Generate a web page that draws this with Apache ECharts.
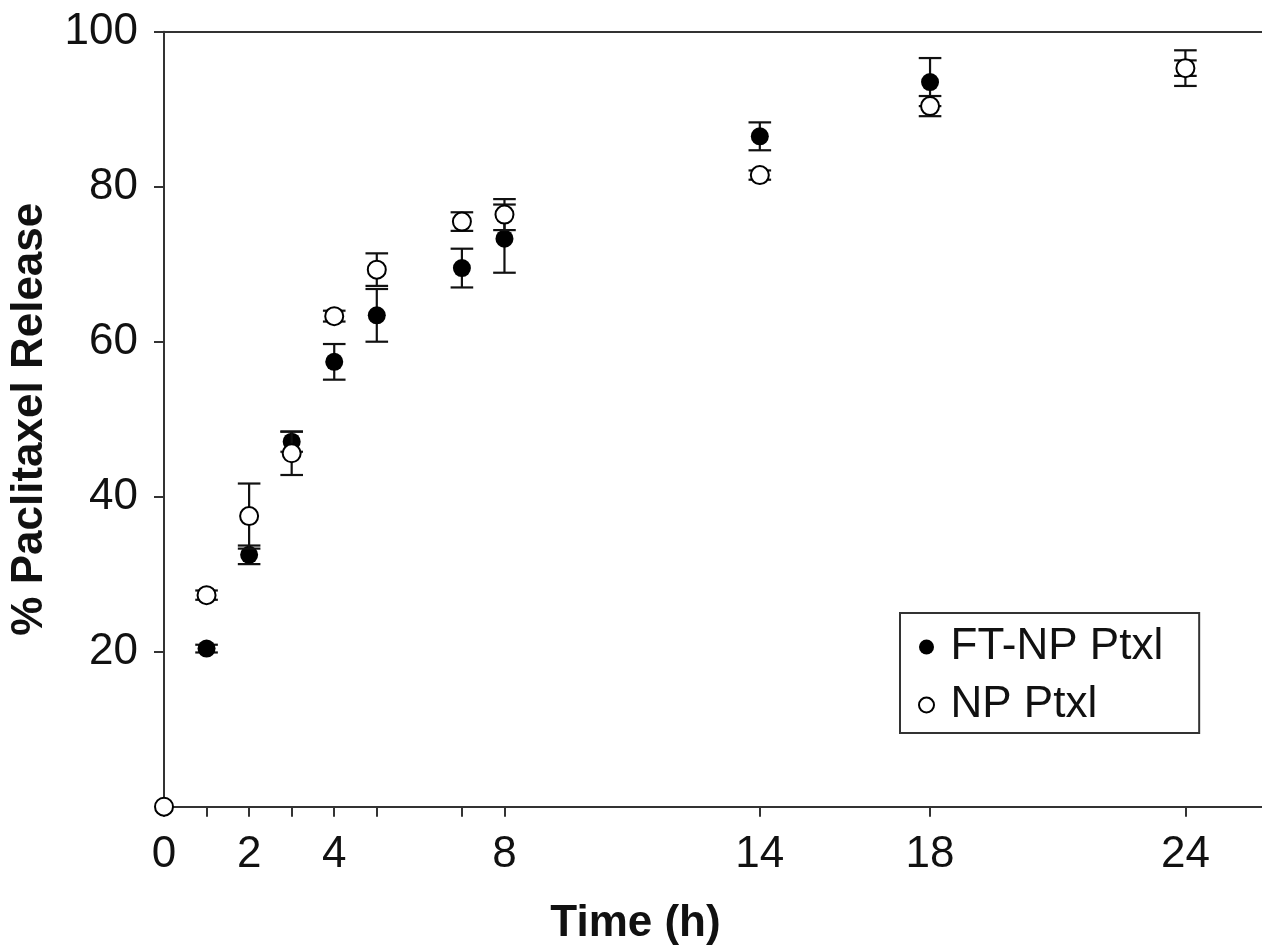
<!DOCTYPE html>
<html>
<head>
<meta charset="utf-8">
<script src="https://cdn.jsdelivr.net/npm/echarts@6/dist/echarts.min.js"></script>
<style>
html,body{margin:0;padding:0;background:#fff;}
#chart{width:1262px;height:952px;}
</style>
</head>
<body>
<div id="chart"></div>
<script>
// ---- data ----
const times      = [0, 1, 2, 3, 4, 5, 7, 8, 14, 18, 24];
const ftnpValues = [0, 20.4, 32.5, 47.1, 57.4, 63.4, 69.5, 73.3, 86.5, 93.5, 95.3];
const ftnpErrors = [0, 0.5, 1.2, 1.3, 2.3, 3.4, 2.5, 4.4, 1.8, 3.1, 1.0];
const npValues   = [0, 27.3, 37.5, 45.6, 63.3, 69.3, 75.5, 76.4, 81.5, 90.4, 95.3];
const npErrors   = [0, 0.6, 4.2, 2.8, 0.7, 2.1, 1.2, 2.0, 0.6, 1.3, 2.3];
const xTickValues  = [0, 1, 2, 3, 4, 5, 7, 8, 14, 18, 24];
const xLabelValues = [0, 2, 4, 8, 14, 18, 24];
const yTickValues  = [20, 40, 60, 80, 100];
const seriesNames  = ['FT-NP Ptxl', 'NP Ptxl'];

const FONT = '"Liberation Sans", Arial, Helvetica, sans-serif';
const AXIS_COLOR = '#333';
const TEXT_COLOR = '#111';

function pairs(vals) { return times.map((t, i) => [t, vals[i]]); }
function triples(vals, errs) { return times.map((t, i) => [t, vals[i], errs[i]]); }

function errorBar(params, api) {
  const x = api.value(0), v = api.value(1), e = api.value(2);
  if (!e) return null;
  const top = api.coord([x, v + e]);
  const bot = api.coord([x, v - e]);
  const hw = 11.3;
  const st = { stroke: '#111', lineWidth: 2.2 };
  return {
    type: 'group',
    children: [
      { type: 'line', shape: { x1: top[0], y1: top[1], x2: bot[0], y2: bot[1] }, style: st },
      { type: 'line', shape: { x1: top[0] - hw, y1: top[1], x2: top[0] + hw, y2: top[1] }, style: st },
      { type: 'line', shape: { x1: bot[0] - hw, y1: bot[1], x2: bot[0] + hw, y2: bot[1] }, style: st }
    ]
  };
}

const chart = echarts.init(document.getElementById('chart'), null, { renderer: 'canvas' });
chart.setOption({
  animation: false,
  backgroundColor: '#fff',
  textStyle: { fontFamily: FONT, color: TEXT_COLOR },
  grid: { left: 163.3, top: 31.7, right: 0, bottom: 145.3, containLabel: false },
  legend: {
    data: seriesNames,
    orient: 'vertical',
    left: 900,
    top: 613,
    itemWidth: 38,
    itemHeight: 15,
    itemGap: 14,
    padding: [12, 36, 6, 18],
    borderColor: AXIS_COLOR,
    borderWidth: 2,
    textStyle: { fontSize: 44, color: TEXT_COLOR, fontFamily: FONT },
    selectedMode: false
  },
  xAxis: [{
    type: 'value',
    min: 0,
    max: 25.8,
    position: 'bottom',
    axisLine: { lineStyle: { color: AXIS_COLOR, width: 2 } },
    axisTick: { customValues: xTickValues, length: 10, lineStyle: { color: AXIS_COLOR, width: 2 } },
    axisLabel: { customValues: xLabelValues, fontSize: 44, margin: 26, color: TEXT_COLOR, fontFamily: FONT },
    splitLine: { show: false },
    name: 'Time (h)',
    nameLocation: 'middle',
    nameGap: 95,
    nameTextStyle: { fontSize: 44, fontWeight: 'bold', color: TEXT_COLOR, fontFamily: FONT, padding: [0, 155, 0, 0] }
  }, {
    type: 'value',
    min: 0,
    max: 25.8,
    position: 'top',
    axisLine: { show: true, lineStyle: { color: AXIS_COLOR, width: 2 } },
    axisTick: { show: false },
    axisLabel: { show: false },
    splitLine: { show: false }
  }],
  yAxis: {
    type: 'value',
    min: 0,
    max: 100,
    interval: 20,
    axisLine: { show: true, lineStyle: { color: AXIS_COLOR, width: 2 } },
    axisTick: { show: true, customValues: yTickValues, length: 10, lineStyle: { color: AXIS_COLOR, width: 2 } },
    axisLabel: { customValues: yTickValues, fontSize: 44, margin: 26, color: TEXT_COLOR, fontFamily: FONT },
    splitLine: { show: false },
    name: '% Paclitaxel Release',
    nameLocation: 'middle',
    nameGap: 112,
    nameTextStyle: { fontSize: 44, fontWeight: 'bold', color: TEXT_COLOR, fontFamily: FONT }
  },
  series: [
    {
      name: 'FT-NP err', type: 'custom', renderItem: errorBar, clip: false,
      data: triples(ftnpValues, ftnpErrors), encode: { x: 0, y: 1 }, z: 2, silent: true
    },
    {
      name: seriesNames[0], type: 'scatter', data: pairs(ftnpValues), clip: false,
      symbol: 'circle', symbolSize: 18, z: 3,
      itemStyle: { color: '#000', opacity: 1 },
      emphasis: { disabled: true }
    },
    {
      name: 'NP err', type: 'custom', renderItem: errorBar, clip: false,
      data: triples(npValues, npErrors), encode: { x: 0, y: 1 }, z: 4, silent: true
    },
    {
      name: seriesNames[1], type: 'scatter', data: pairs(npValues), clip: false,
      symbol: 'circle', symbolSize: 18, z: 5,
      itemStyle: { color: '#fff', borderColor: '#000', borderWidth: 2, opacity: 1 },
      emphasis: { disabled: true }
    }
  ]
});
</script>
</body>
</html>
